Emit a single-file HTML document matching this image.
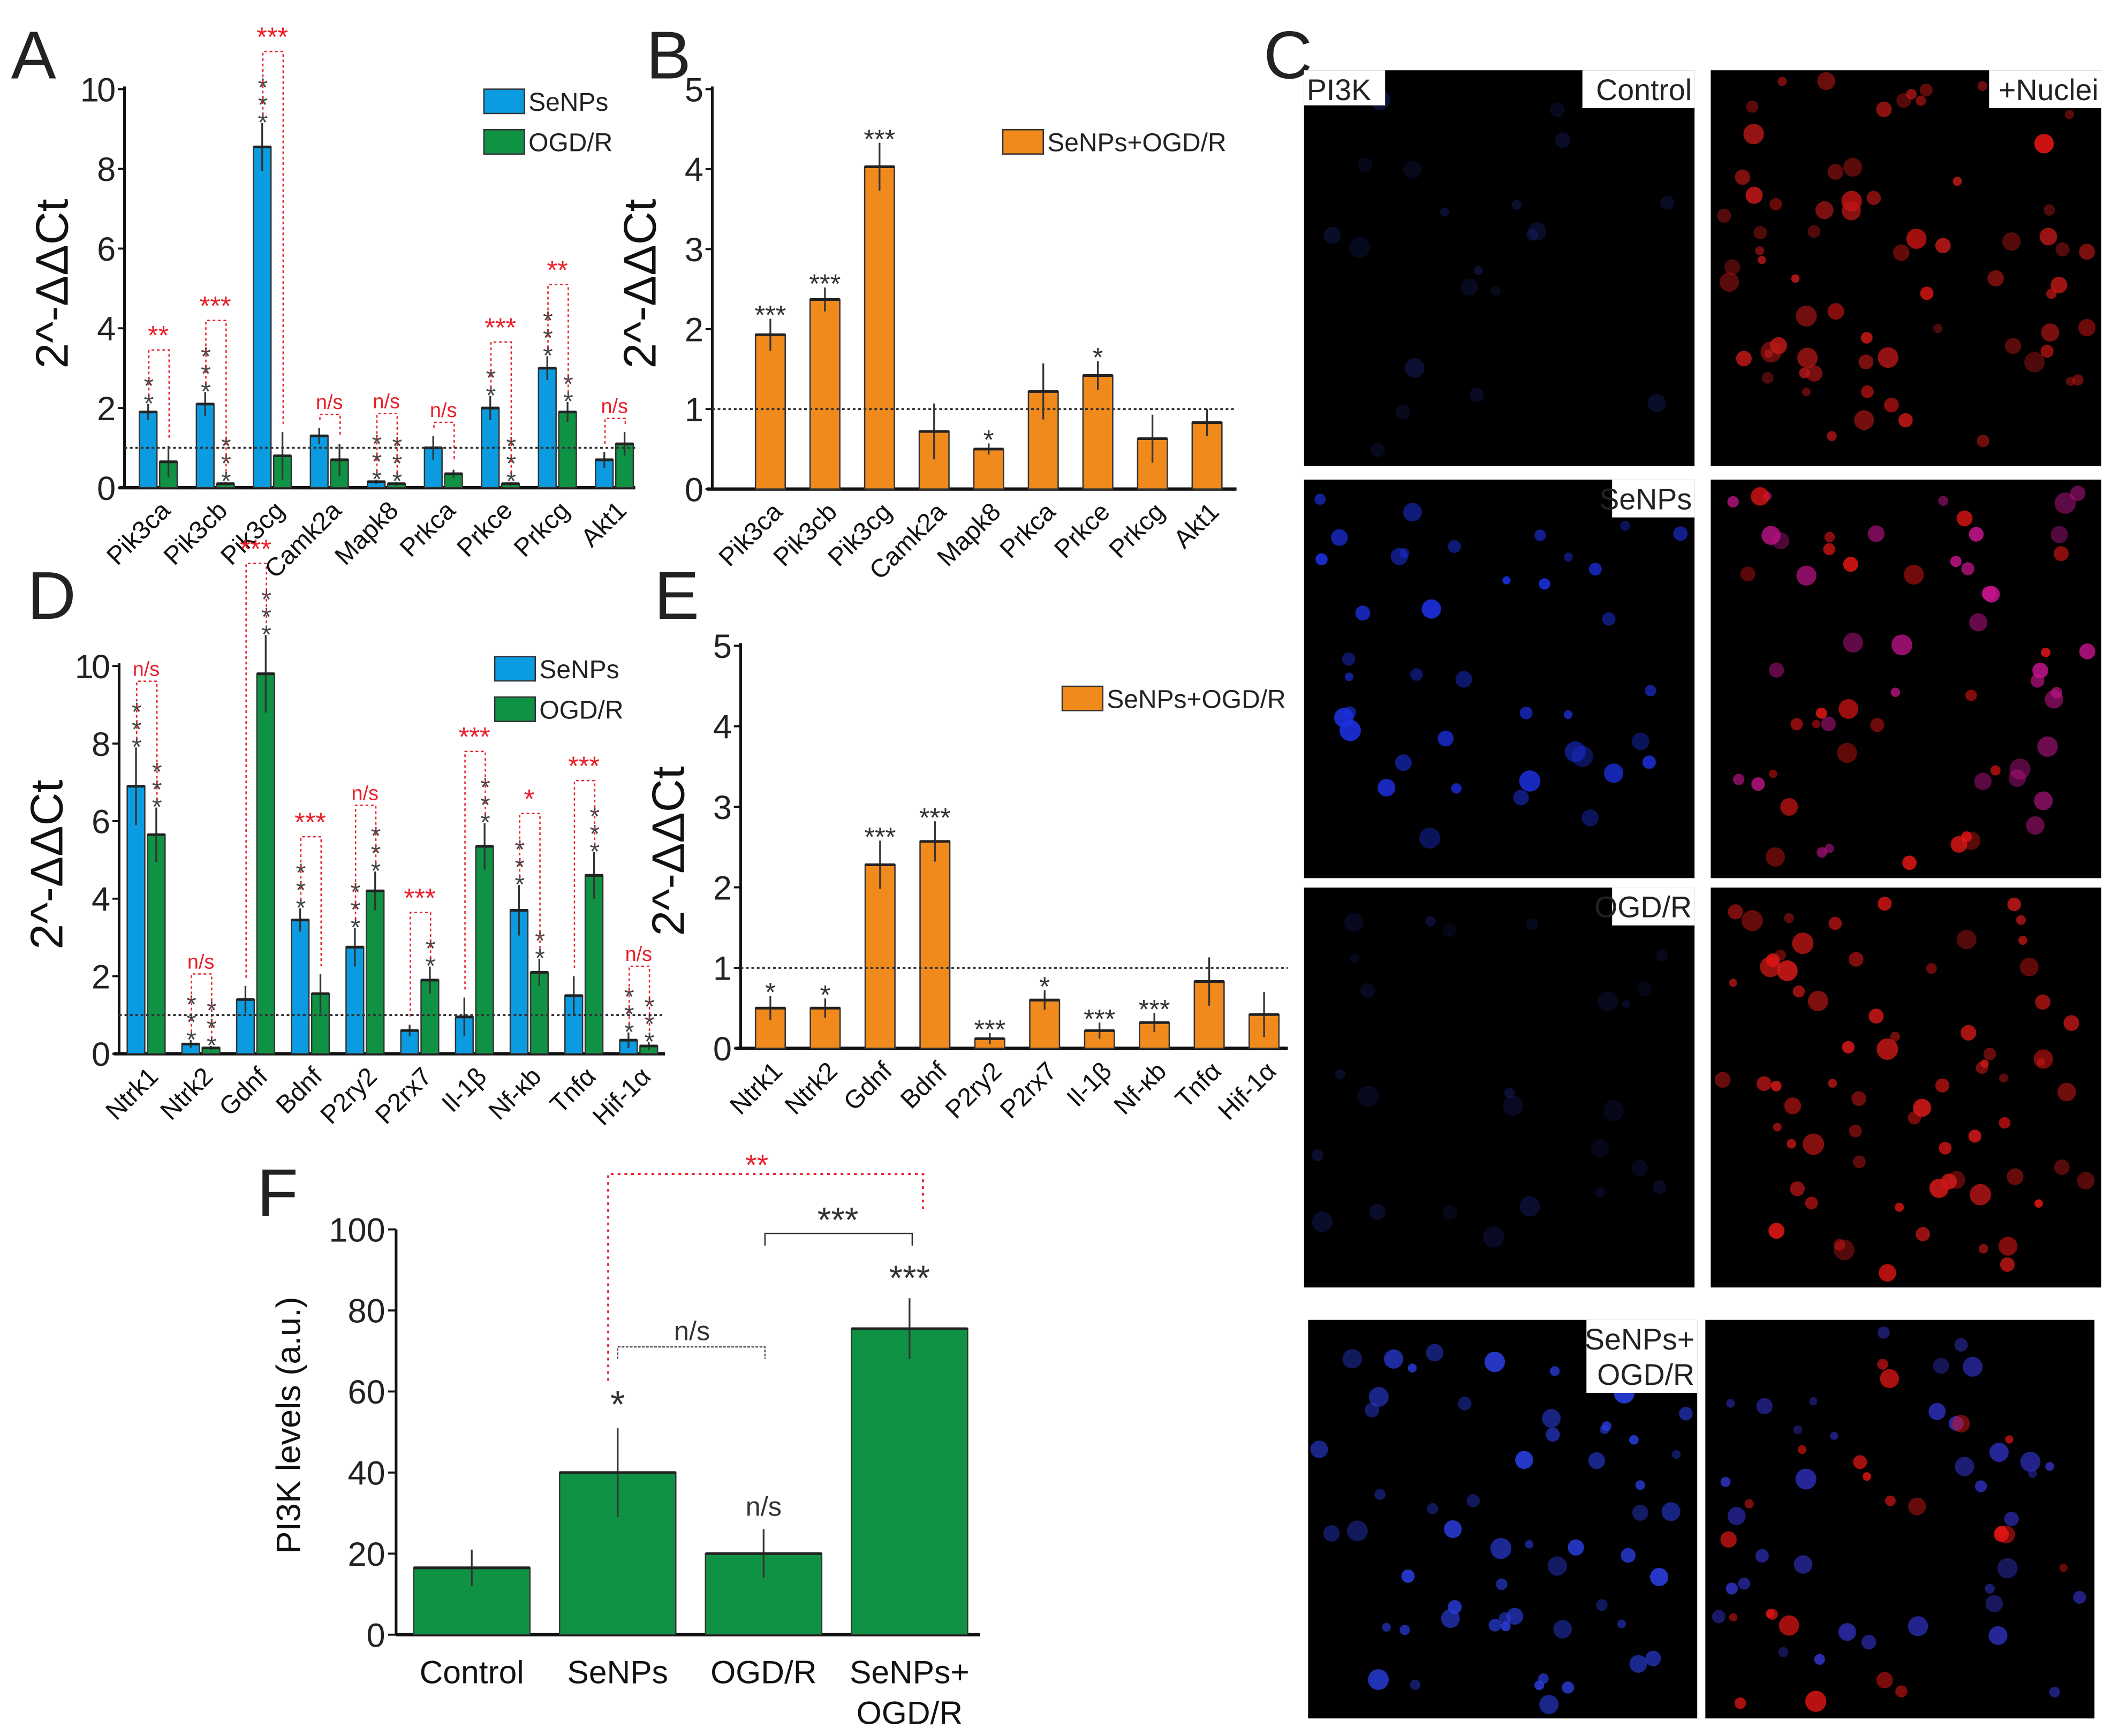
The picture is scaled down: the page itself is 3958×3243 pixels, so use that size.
<!DOCTYPE html>
<html><head><meta charset="utf-8"><style>
html,body{margin:0;padding:0;background:#fff}
svg{display:block}
text{font-family:"Liberation Sans",Arial,sans-serif}
</style></head><body>
<svg id="fig" width="3958" height="3243" viewBox="0 0 1568 1285" xmlns="http://www.w3.org/2000/svg">
<g id="root"></g>
</svg>
<script>
// Panel A data
const catsA=["Pik3ca","Pik3cb","Pik3cg","Camk2a","Mapk8","Prkca","Prkce","Prkcg","Akt1"];
const senA=[1.9,2.1,8.55,1.3,0.15,1.0,2.0,3.0,0.7];
const senAerr=[0.2,0.3,0.6,0.2,0.05,0.3,0.3,0.3,0.2];
const ogdA=[0.65,0.1,0.8,0.7,0.1,0.35,0.1,1.9,1.1];
const ogdAerr=[0.4,0.05,0.6,0.4,0.05,0.1,0.05,0.25,0.3];
const sigA=["**","***","***","n/s","n/s","n/s","***","**","n/s"];
const senStarA=["**","***","***","","***","","**","***",""];
const ogdStarA=["","***","","","***","","***","**",""];
// Panel B data
const catsB=catsA;
const valB=[1.93,2.37,4.03,0.72,0.5,1.22,1.42,0.63,0.83];
const errB=[0.2,0.15,0.3,0.35,0.07,0.35,0.18,0.3,0.17];
const starB=["***","***","***","","*","","*","",""];
// Panel D data
const catsD=["Ntrk1","Ntrk2","Gdnf","Bdnf","P2ry2","P2rx7","Il-1β","Nf-κb","Tnfα","Hif-1α"];
const senD=[6.9,0.25,1.4,3.45,2.75,0.6,0.95,3.7,1.5,0.35];
const senDerr=[1.0,0.1,0.35,0.3,0.5,0.15,0.5,0.65,0.5,0.2];
const ogdD=[5.65,0.15,9.8,1.55,4.2,1.9,5.35,2.1,4.6,0.2];
const ogdDerr=[0.7,0.05,1.0,0.5,0.5,0.35,0.6,0.35,0.6,0.1];
const sigD=["n/s","n/s","***","***","n/s","***","***","*","***","n/s"];
const senStarD=["***","***","","***","***","","","***","","***"];
const ogdStarD=["***","***","***","","***","**","***","**","***","***"];
// Panel E data
const catsE=catsD;
const valE=[0.5,0.5,2.28,2.57,0.12,0.6,0.22,0.32,0.83,0.42];
const errE=[0.15,0.12,0.3,0.25,0.07,0.12,0.1,0.12,0.3,0.28];
const starE=["*","*","***","***","***","*","***","***","",""];
// Panel F data
const catsF=["Control","SeNPs","OGD/R","SeNPs+|OGD/R"];
const valF=[16.5,40,20,75.5];
const errF=[4.5,11,6,7.5];

const NS="http://www.w3.org/2000/svg";
const root=document.getElementById('root');
function el(tag,attrs,parent,txt){const e=document.createElementNS(NS,tag);for(const k in attrs)e.setAttribute(k,attrs[k]);if(txt!==undefined)e.textContent=txt;(parent||root).appendChild(e);return e;}
const BLUE="#0a9be0",GREEN="#0f9244",ORANGE="#f08a1c",RED="#e8202a";

function panel(name){const g=el('g',{});return g;}

function axes(g,x0,yb,yt,x1,ymax,ticks,ylab,labY){
  el('line',{x1:x0,y1:yt-2,x2:x0,y2:yb,stroke:'#111','stroke-width':2},g);
  el('line',{x1:x0-4,y1:yb,x2:x1,y2:yb,stroke:'#111','stroke-width':2.5},g);
  ticks.forEach(t=>{const y=yb-(yb-yt)*t/ymax;
    el('line',{x1:x0-5,y1:y,x2:x0,y2:y,stroke:'#111','stroke-width':1.5},g);
    const tt=el('text',{x:x0-8,y:y+9,'font-size':25,'text-anchor':'end',fill:'#222','letter-spacing':-1.5},g,String(t));
    });
  const yl=el('text',{x:0,y:0,transform:`translate(${x0-42},${labY}) rotate(-90)`,'font-size':34,'text-anchor':'middle',fill:'#111'},g,ylab);
  
}
function bar(g,x,w,yb,h,col,err,sc,name){
  const r=el('rect',{x:x,y:yb-h,width:w,height:h,fill:col,stroke:'#333','stroke-width':1},g);
  
  el('line',{x1:x+w/2,y1:yb-h-err*sc,x2:x+w/2,y2:yb-h+err*sc,stroke:'#333','stroke-width':1.3},g);
  el('line',{x1:x,y1:yb-h,x2:x+w,y2:yb-h,stroke:'#222','stroke-width':2},g);
}
function xlabels(g,centers,cats,y){cats.forEach((c,i)=>{
  const t=el('text',{x:0,y:0,transform:`translate(${centers[i]+10},${y}) rotate(-45)`,'font-size':19,'text-anchor':'end',fill:'#111'},g,c);
  });}
function letter(g,ch,x,y){const t=el('text',{x:x,y:y,'font-size':50,fill:'#222'},g,ch);}
function vstars(g,x,ybottom,s){
  for(let k=0;k<s.length;k++){el('text',{x:x,y:ybottom-k*13+10,'font-size':19,'text-anchor':'middle',fill:'#444'},g,'*');}
}
function legend(g,x,y,items){items.forEach((it,i)=>{
  const r=el('rect',{x:x,y:y+i*30-14,width:30,height:18,fill:it[1],stroke:'#333'},g);
  
  const t=el('text',{x:x+33,y:y+i*30+2,'font-size':19,fill:'#222'},g,it[0]);
  });}

function grouped(name,L,cats,sen,senE,ogd,ogdE,sig,sS,oS,o){
  const g=panel(name);
  letter(g,L,o.lx,o.ly);
  axes(g,o.x0,o.yb,o.yt,o.x1,10,[0,2,4,6,8,10],'2^-ΔΔCt',o.labY);
  const sc=(o.yb-o.yt)/10;const centers=[];
  cats.forEach((c,i)=>{const cx=o.c0+i*o.sp;centers.push(cx);
    bar(g,cx-14,13,o.yb,sen[i]*sc,BLUE,senE[i],sc,'bar-senps-'+c);
    bar(g,cx+1,13,o.yb,ogd[i]*sc,GREEN,ogdE[i],sc,'bar-ogdr-'+c);
    const ya=o.yb-(sen[i]+senE[i])*sc, yo=o.yb-(ogd[i]+ogdE[i])*sc;
    vstars(g,cx-7,ya-4,sS[i]);vstars(g,cx+8,yo-4,oS[i]);
    const ha=ya-(sS[i].length*13), ho=yo-(oS[i].length*13);
    const top=Math.min(ha,ho)-(sig[i]=='n/s'?10:14);
    el('polyline',{points:`${cx-7},${ya-6} ${cx-7},${top} ${cx+8},${top} ${cx+8},${yo-6}`,fill:'none',stroke:RED,'stroke-width':1,'stroke-dasharray':'2,2'},g);
    const st=el('text',{x:cx,y:top-4,'font-size':sig[i]=='n/s'?15:20,'text-anchor':'middle',fill:RED},g,sig[i]);
    
  });
  const dl=el('line',{x1:o.x0,y1:o.yb-sc,x2:o.x1,y2:o.yb-sc,stroke:'#333','stroke-width':1.5,'stroke-dasharray':'2,2'},g);
  
  xlabels(g,centers,cats,o.yb+18);
  legend(g,o.legx,o.legy,[['SeNPs',BLUE],['OGD/R',GREEN]]);
}
function single(name,L,cats,val,err,stars,o){
  const g=panel(name);
  letter(g,L,o.lx,o.ly);
  axes(g,o.x0,o.yb,o.yt,o.x1,5,[0,1,2,3,4,5],'2^-ΔΔCt',o.labY);
  const sc=(o.yb-o.yt)/5;const centers=[];
  cats.forEach((c,i)=>{const cx=o.c0+i*o.sp;centers.push(cx);
    bar(g,cx-11,22,o.yb,val[i]*sc,ORANGE,err[i],sc,'bar-'+c);
    if(stars[i]){const t=el('text',{x:cx,y:o.yb-(val[i]+err[i])*sc+4,'font-size':20,'text-anchor':'middle',fill:'#333'},g,stars[i]);}
  });
  el('line',{x1:o.x0,y1:o.yb-sc,x2:o.x1,y2:o.yb-sc,stroke:'#333','stroke-width':1.5,'stroke-dasharray':'2,2'},g);
  xlabels(g,centers,cats,o.yb+18);
  legend(g,o.legx,o.legy,[['SeNPs+OGD/R',ORANGE]]);
}
grouped('panel-a','A',catsA,senA,senAerr,ogdA,ogdAerr,sigA,senStarA,ogdStarA,{lx:8,ly:58,x0:92,yb:361,yt:66,x1:470,c0:117,sp:42.2,labY:210,legx:358,legy:80});
single('panel-b','B',catsB,valB,errB,starB,{lx:478,ly:58,x0:527,yb:362,yt:66,x1:915,c0:570,sp:40.4,labY:210,legx:742,legy:110});
grouped('panel-d','D',catsD,senD,senDerr,ogdD,ogdDerr,sigD,senStarD,ogdStarD,{lx:20,ly:458,x0:88,yb:780,yt:493,x1:492,c0:108,sp:40.5,labY:640,legx:366,legy:500});
single('panel-e','E',catsE,valE,errE,starE,{lx:484,ly:458,x0:548,yb:776,yt:478,x1:953,c0:570,sp:40.6,labY:630,legx:786,legy:522});

// Panel F
(function(){
  const g=panel('panel-f');letter(g,'F',190,900);
  const x0=293,yb=1210,yt=910,x1=725,sc=(yb-yt)/100;
  el('line',{x1:x0,y1:yt,x2:x0,y2:yb,stroke:'#111','stroke-width':2},g);
  el('line',{x1:x0,y1:yb,x2:x1,y2:yb,stroke:'#111','stroke-width':2.5},g);
  [0,20,40,60,80,100].forEach(t=>{const y=yb-t*sc;el('line',{x1:x0-6,y1:y,x2:x0,y2:y,stroke:'#111','stroke-width':1.5},g);
    const tt=el('text',{x:x0-8,y:y+9,'font-size':25,'text-anchor':'end',fill:'#222'},g,String(t));});
  const yl=el('text',{x:0,y:0,transform:'translate(222,1055) rotate(-90)','font-size':25,'text-anchor':'middle',fill:'#111'},g,'PI3K levels (a.u.)');
  
  const cx=[];catsF.forEach((c,i)=>{const x=349+i*108;cx.push(x);
    bar(g,x-43,86,yb,valF[i]*sc,GREEN,errF[i],sc,'bar-'+c.replace('|',''));
    const parts=c.split('|');parts.forEach((p,k)=>{const t=el('text',{x:x,y:yb+36+k*30,'font-size':24,'text-anchor':'middle',fill:'#111'},g,p);});
  });
  const top=(i)=>yb-(valF[i]+errF[i])*sc;
  el('text',{x:cx[1],y:top(1)-8,'font-size':28,'text-anchor':'middle',fill:'#333'},g,'*');
  el('text',{x:cx[2],y:top(2)-10,'font-size':20,'text-anchor':'middle',fill:'#333'},g,'n/s');
  el('text',{x:cx[3],y:top(3)-6,'font-size':26,'text-anchor':'middle',fill:'#333'},g,'***');
  el('polyline',{points:`457,1006 457,997 566,997 566,1006`,fill:'none',stroke:'#555','stroke-width':1,'stroke-dasharray':'2,1'},g);
  el('text',{x:512,y:992,'font-size':20,'text-anchor':'middle',fill:'#333'},g,'n/s');
  el('polyline',{points:`566,922 566,913 675,913 675,922`,fill:'none',stroke:'#333','stroke-width':1},g);
  el('text',{x:620,y:912,'font-size':26,'text-anchor':'middle',fill:'#333'},g,'***');
  el('polyline',{points:`450,1022 450,869 683,869 683,898`,fill:'none',stroke:RED,'stroke-width':1.5,'stroke-dasharray':'2,3'},g);
  el('text',{x:560,y:870,'font-size':22,'text-anchor':'middle',fill:RED},g,'**');
})();

// Panel C micrographs
(function(){
  const g=panel('panel-c');letter(g,'C',935,58);
  const cells=[[965,52,289,293,'Control','PI3K'],[1266,52,289,293,'+Nuclei',''],[965,355,289,295,'SeNPs',''],[1266,355,289,295,'',''],[965,657,289,296,'OGD/R',''],[1266,657,289,296,'',''],[968,977,288,295,'SeNPs+|OGD/R',''],[1262,977,288,295,'','']];
  let seed=7;const rnd=()=>{seed=(seed*9301+49297)%233280;return seed/233280;};
  const dens=[[20,'#1a2570',0,0.5],[70,'#c01818',0.2,1],[40,'#1c30e0',0,1],[60,'#c0148a',0.35,1],[25,'#1a2070',0,0.5],[70,'#d01818',0.2,1],[60,'#2a3ee0',0,1],[60,'#3030c0',0.35,1]];
  cells.forEach((c,i)=>{
    const r=el('rect',{x:c[0],y:c[1],width:c[2],height:c[3],fill:'#000'},g);
    
    const d=dens[i];
    for(let k=0;k<d[0];k++){const px=c[0]+8+rnd()*(c[2]-16),py=c[1]+8+rnd()*(c[3]-16);
      const col=(d[2]&&rnd()<d[2])?'#e01515':d[1];
      el('circle',{cx:px,cy:py,r:3+rnd()*5,fill:col,opacity:(0.4+rnd()*0.5)*d[3]},g);}
    if(c[4]){const parts=c[4].split('|');const w=parts.length>1?82:(c[4].length*11+6);
      el('rect',{x:c[0]+c[2]-w,y:c[1],width:w,height:parts.length*26+2,fill:'#fff'},g);
      parts.forEach((p,k)=>{const t=el('text',{x:c[0]+c[2]-2,y:c[1]+22+k*26,'font-size':22,'text-anchor':'end',fill:'#222'},g,p);});}
    if(c[5]){el('rect',{x:c[0],y:c[1],width:60,height:26,fill:'#fff'},g);
      const t=el('text',{x:c[0]+2,y:c[1]+22,'font-size':22,fill:'#222'},g,c[5]);}
  });
})();
</script>
</body></html>
